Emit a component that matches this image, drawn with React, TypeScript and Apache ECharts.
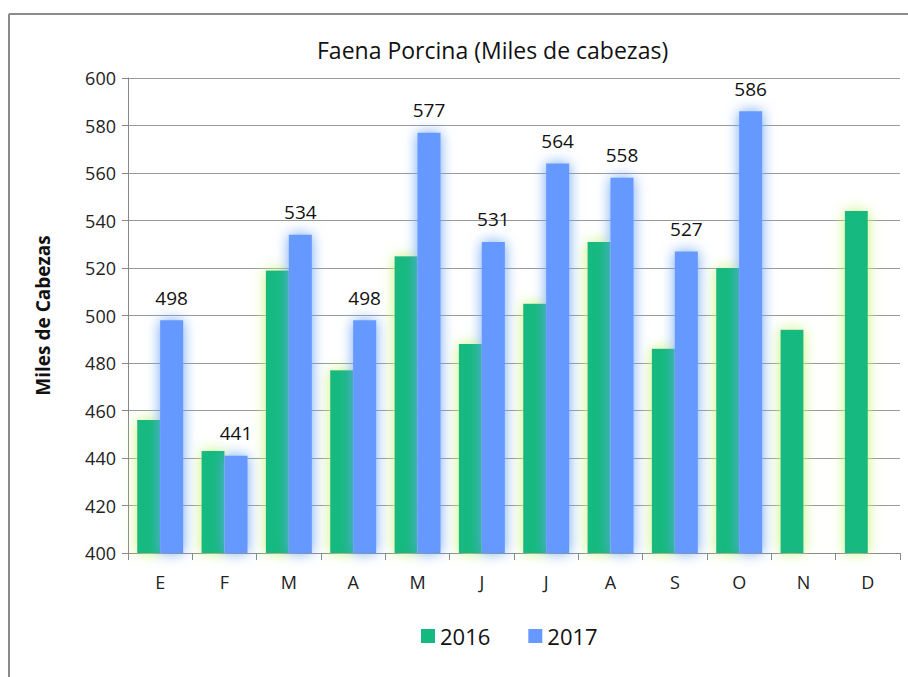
import React, { useEffect, useRef } from "react";
import * as echarts from "echarts";

const categories = ["E", "F", "M", "A", "M", "J", "J", "A", "S", "O", "N", "D"];
const values2016 = [456, 443, 519, 477, 525, 488, 505, 531, 486, 520, 494, 544];
const values2017: (number | null)[] = [498, 441, 534, 498, 577, 531, 564, 558, 527, 586, null, null];
const seriesNames = ["2016", "2017"];
const titleText = "Faena Porcina (Miles de cabezas)";
const yAxisName = "Miles de Cabezas";

const FONT = "'Open Sans', 'Liberation Sans', sans-serif";

export default function App() {
  const ref = useRef<HTMLDivElement>(null);
  useEffect(() => {
    if (!ref.current) return;
    const chart = echarts.init(ref.current, null, { renderer: "svg" });
    chart.setOption({
      animation: false,
      backgroundColor: "#ffffff",
      title: {
        text: titleText,
        left: 312,
        top: 33,
        textStyle: { fontFamily: FONT, fontSize: 23, fontWeight: "normal", color: "#111" },
      },
      legend: {
        data: seriesNames,
        top: 620,
        left: 416,
        itemWidth: 14,
        itemHeight: 14,
        itemGap: 38,
        icon: "rect",
        textStyle: { fontFamily: FONT, fontSize: 22, color: "#111" },
      },
      grid: { left: 128, right: 8, top: 78, bottom: 124 },
      xAxis: {
        type: "category",
        data: categories,
        axisLine: { lineStyle: { color: "#888", width: 1 } },
        axisTick: { show: true, length: 7, lineStyle: { color: "#888" } },
        axisLabel: { fontFamily: FONT, fontSize: 18, color: "#222", margin: 20 },
      },
      yAxis: {
        type: "value",
        min: 400,
        max: 600,
        interval: 20,
        name: yAxisName,
        nameLocation: "middle",
        nameGap: 76,
        nameTextStyle: { fontFamily: FONT, fontSize: 19, fontWeight: "bold", color: "#111" },
        axisLine: { show: true, lineStyle: { color: "#888" } },
        axisTick: { show: true, length: 6, lineStyle: { color: "#888" } },
        axisLabel: { fontFamily: FONT, fontSize: 18, color: "#222", margin: 12 },
        splitLine: { lineStyle: { color: "#999", width: 1 } },
      },
      series: [
        {
          name: seriesNames[0],
          type: "bar",
          data: values2016,
          barWidth: 23,
          barGap: "0%",
          itemStyle: { color: "#14B97F", shadowBlur: 14, shadowColor: "rgba(200,245,120,1)" },
        },
        {
          name: seriesNames[1],
          type: "bar",
          data: values2017,
          barWidth: 23,
          itemStyle: { color: "#6699FF", shadowBlur: 14, shadowColor: "rgba(110,165,245,1)" },
          label: {
            show: true,
            position: "top",
            distance: 13,
            fontFamily: FONT,
            fontSize: 19,
            color: "#111",
          },
        },
      ],
      graphic: [
        {
          type: "line",
          shape: { x1: 9, y1: 14, x2: 908, y2: 14 },
          style: { stroke: "#8a8a8a", lineWidth: 2 },
        },
        {
          type: "line",
          shape: { x1: 9, y1: 14, x2: 9, y2: 677 },
          style: { stroke: "#8a8a8a", lineWidth: 2 },
        },
      ],
    });
    return () => chart.dispose();
  }, []);
  return (
    <div
      ref={ref}
      style={{ position: "fixed", left: 0, top: 0, width: 908, height: 677 }}
    />
  );
}
